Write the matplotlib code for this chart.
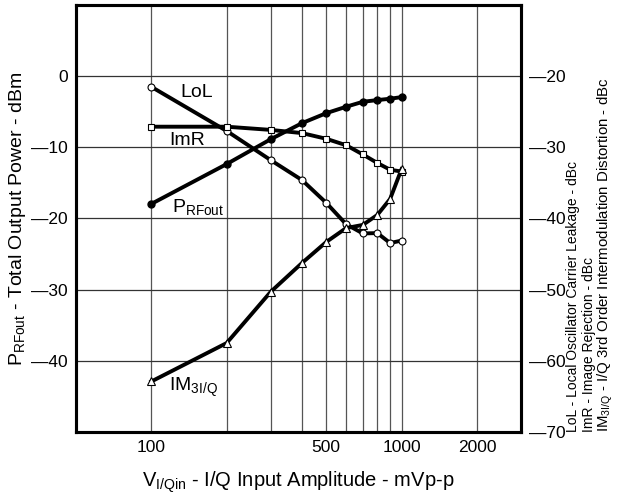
import numpy as np
import matplotlib
matplotlib.use("Agg")
import matplotlib.pyplot as plt
from matplotlib.ticker import FixedLocator, NullLocator, FixedFormatter

plt.rcParams['font.family'] = ['Liberation Sans', 'DejaVu Sans']
plt.rcParams['mathtext.fontset'] = 'custom'
plt.rcParams['mathtext.rm'] = 'Liberation Sans'
plt.rcParams['mathtext.it'] = 'Liberation Sans:italic'

# --- datos ---
v_in = [100, 200, 300, 400, 500, 600, 700, 800, 900, 1000]  # mVp-p
p_rfout = [-17.95, -12.35, -8.86, -6.6, -5.2, -4.3, -3.6, -3.36, -3.17, -2.94]  # dBm (eje izq)
lol = [-21.5, -27.7, -31.8, -34.6, -37.8, -40.8, -42.1, -42.05, -43.45, -43.1]  # dBc (eje der)
imr = [-27.1, -27.1, -27.55, -28.0, -28.8, -29.7, -31.0, -32.2, -33.15, -33.4]  # dBc
im3 = [-62.9, -57.5, -50.3, -46.25, -43.3, -41.35, -40.9, -39.5, -37.25, -33.05]  # dBc

x_grid = [100, 200, 300, 400, 500, 600, 700, 800, 900, 1000, 2000]
x_ticks = [100, 500, 1000, 2000]
y_left_ticks = [0, -10, -20, -30, -40]
y_right_ticks = [-20, -30, -40, -50, -60, -70]


def etiqueta(v):
    # el original usa un guion largo como signo menos
    return str(v).replace('-', '\u2014')


fig = plt.figure(figsize=(6.28, 5.0), dpi=100)
ax = fig.add_axes([76 / 628, 68 / 500, 445 / 628, 427 / 500])
ax2 = ax.twinx()

ax.set_xscale('log')
ax.set_xlim(50, 3000)
ax.set_ylim(-50, 10)
ax2.set_ylim(-70, -10)

# grilla
for xv in x_grid:
    ax.axvline(xv, color='#555555', lw=0.9, zorder=0)
for yv in y_left_ticks:
    ax.axhline(yv, color='#333333', lw=0.9, zorder=0)

ax.xaxis.set_major_locator(FixedLocator(x_ticks))
ax.xaxis.set_major_formatter(FixedFormatter([str(t) for t in x_ticks]))
ax.xaxis.set_minor_locator(NullLocator())
ax.yaxis.set_major_locator(FixedLocator(y_left_ticks))
ax.yaxis.set_major_formatter(FixedFormatter([etiqueta(t) for t in y_left_ticks]))
ax2.yaxis.set_major_locator(FixedLocator(y_right_ticks))
ax2.yaxis.set_major_formatter(FixedFormatter([etiqueta(t) for t in y_right_ticks]))

ax.tick_params(axis='both', length=0, labelsize=12.5)
ax.tick_params(axis='y', pad=6)
ax.tick_params(axis='x', pad=6)
ax2.tick_params(axis='y', length=0, labelsize=12.5, pad=6)

for a in (ax, ax2):
    for s in a.spines.values():
        s.set_linewidth(2.2)
        s.set_color('black')

lw = 2.8
ax.plot(v_in, p_rfout, color='black', lw=lw, marker='o', ms=5, mfc='black', mec='black')
ax2.plot(v_in, lol, color='black', lw=lw, marker='o', ms=5, mfc='white', mec='black', mew=0.8)
ax2.plot(v_in, imr, color='black', lw=lw, marker='s', ms=5, mfc='white', mec='black', mew=0.8)
ax2.plot(v_in, im3, color='black', lw=lw, marker='^', ms=5.5, mfc='white', mec='black', mew=0.8)

# etiquetas de curvas
ax.text(131, -2.94, 'LoL', fontsize=14, va='baseline')
ax.text(118, -9.65, 'ImR', fontsize=14, va='baseline')
ax.text(121, -19.1, r'P$_{\mathregular{RFout}}$', fontsize=14, va='baseline')
ax.text(118, -44.3, r'IM$_{\mathregular{3I/Q}}$', fontsize=14, va='baseline')

ax.set_xlabel(r'V$_{\mathregular{I/Qin}}$ - I/Q Input Amplitude - mVp-p', fontsize=14.5, labelpad=10)
ax.set_ylabel(r'P$_{\mathregular{RFout}}$ - Total Output Power - dBm', fontsize=14, labelpad=2)

# etiqueta del eje derecho, tres lineas
right_lines = [
    'LoL - Local Oscillator Carrier Leakage - dBc',
    'ImR - Image Rejection - dBc',
    r'IM$_{\mathregular{3I/Q}}$ - I/Q 3rd Order Intermodulation Distortion - dBc',
]
right_sizes = [10, 10, 10.8]
for i, txt in enumerate(right_lines):
    fig.text((573 + 16 * i) / 628, 68 / 500, txt, rotation=90, fontsize=right_sizes[i],
             ha='center', va='bottom')

fig.savefig('out.png', dpi=100)
